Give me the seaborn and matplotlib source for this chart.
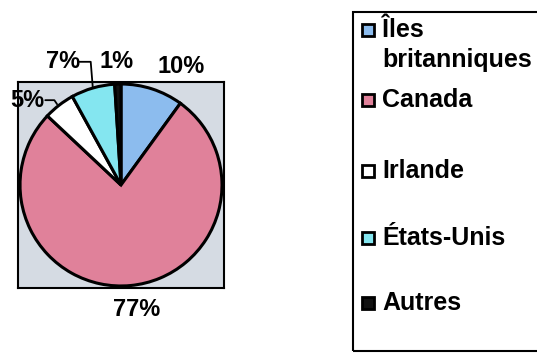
import matplotlib
matplotlib.use("Agg")
import matplotlib.pyplot as plt
import seaborn as sns
import numpy as np
from matplotlib.patches import Rectangle

sns.set_style("white")
plt.rcParams['font.family'] = ['Liberation Sans', 'DejaVu Sans']
plt.rcParams['font.weight'] = 'bold'
plt.rcParams['text.color'] = 'black'

categories = ["Îles\nbritanniques", "Canada", "Irlande", "États-Unis", "Autres"]
values = [10, 77, 5, 7, 1]
pct_labels = ["10%", "77%", "5%", "7%", "1%"]
colors = ["#8cbcee", "#e0819a", "#ffffff", "#84e6f0", "#111111"]

W, H = 537, 354
fig = plt.figure(figsize=(W / 100, H / 100), dpi=100)

# pie axes
ax = fig.add_axes([18 / W, (H - 288) / H, 206 / W, 206 / H])
ax.set_facecolor("#d5dbe3")
wedges, _ = ax.pie(values, colors=colors, startangle=90, counterclock=False,
                   radius=1.0, center=(0, 0),
                   wedgeprops=dict(edgecolor="black", linewidth=2.2))
ax.set_xlim(-1.02, 1.02)
ax.set_ylim(-1.02, 1.02)
ax.set_aspect("equal")
ax.set_frame_on(True)
for s in ax.spines.values():
    s.set_visible(True)
    s.set_color("black")
    s.set_linewidth(1.5)
ax.set_xticks([])
ax.set_yticks([])

# percentage labels
label_pos = [(0.60, 1.17), (0.15, -1.23), (-0.93, 0.84), (-0.57, 1.22), (-0.04, 1.22)]
for w, txt, pos in zip(wedges, pct_labels, label_pos):
    ax.text(pos[0], pos[1], txt, ha="center", va="center", fontsize=17,
            fontweight="bold", color="black", clip_on=False)

# leader lines for small slices (Irlande, États-Unis)
def edge_point(w):
    ang = np.deg2rad((w.theta1 + w.theta2) / 2)
    return np.cos(ang), np.sin(ang)

ex, ey = edge_point(wedges[2])
ax.plot([-0.75, -0.66, ex - 0.02], [0.84, 0.84, ey + 0.01], color="black",
        lw=1.3, clip_on=False)
ex, ey = edge_point(wedges[3])
ax.plot([-0.41, -0.30, ex], [1.22, 1.22, ey], color="black",
        lw=1.3, clip_on=False)

# legend (drawn manually; box runs off the right edge)
fig.add_artist(Rectangle((353 / W, (H - 351) / H), 200 / W, 339 / H,
                         transform=fig.transFigure, fill=False,
                         edgecolor="black", linewidth=1.5))
entry_y = [30, 100, 171, 238, 303]
for cat, col, yy in zip(categories, colors, entry_y):
    fig.add_artist(Rectangle((362 / W, (H - yy - 6) / H), 12 / W, 12 / H,
                             transform=fig.transFigure, facecolor=col,
                             edgecolor="black", linewidth=2.0))
    if "\n" in cat:
        fig.text(382 / W, (H - yy + 12) / H, cat, ha="left", va="top",
                 fontsize=18, fontweight="bold", linespacing=1.32)
    else:
        fig.text(382 / W, (H - yy) / H, cat, ha="left", va="center",
                 fontsize=18, fontweight="bold")

fig.savefig("out.png", dpi=100)
